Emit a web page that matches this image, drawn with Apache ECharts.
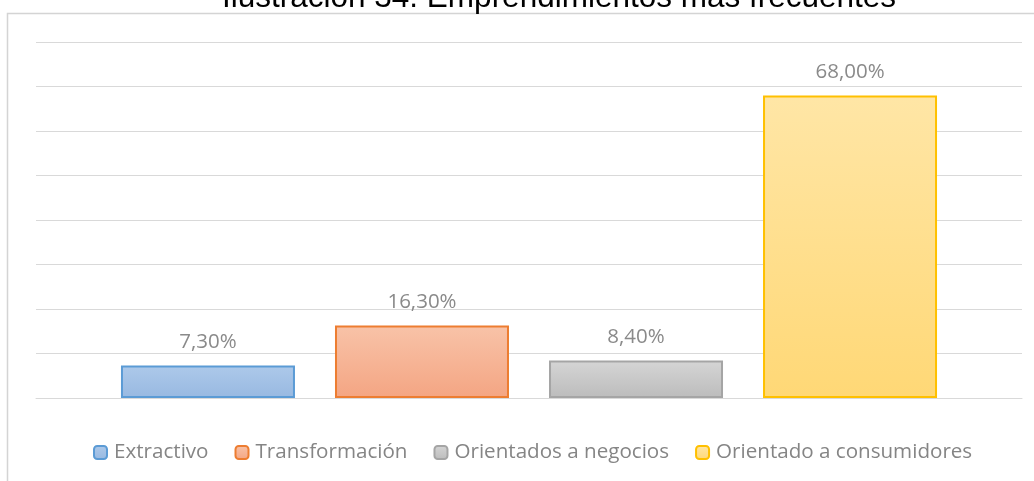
<!DOCTYPE html>
<html>
<head>
<meta charset="utf-8">
<script src="https://cdn.jsdelivr.net/npm/echarts@6/dist/echarts.min.js"></script>
<style>
  html, body { margin: 0; padding: 0; background: #fff; }
  #chart { width: 1034px; height: 481px; }
</style>
</head>
<body>
<div id="chart"></div>
<script>
// datos
const titleText = 'Ilustración 34. Emprendimientos más frecuentes';
const seriesNames = ['Extractivo', 'Transformación', 'Orientados a negocios', 'Orientado a consumidores'];
const values = [7.3, 16.3, 8.4, 68.0];
const category = [''];

const fills = [
  ['#adc9ea', '#98b9e1'],
  ['#f8c3a8', '#f4a583'],
  ['#d5d5d5', '#bcbcbc'],
  ['#ffe6a6', '#ffd876']
];
const borders = ['#5b9bd5', '#ed7d31', '#a5a5a5', '#ffc000'];

const fmt = p => p.value.toFixed(2).replace('.', ',') + '%';

const chart = echarts.init(document.getElementById('chart'));

const series = seriesNames.map((name, i) => ({
  name: name,
  type: 'bar',
  data: [values[i]],
  barWidth: 174,
  barGap: '23%',
  itemStyle: {
    color: {
      type: 'linear', x: 0, y: 0, x2: 0, y2: 1,
      colorStops: [{ offset: 0, color: fills[i][0] }, { offset: 1, color: fills[i][1] }]
    },
    borderColor: borders[i],
    borderWidth: 2
  },
  label: {
    show: true,
    position: 'top',
    distance: 13,
    formatter: fmt,
    fontFamily: 'Open Sans',
    fontSize: 20.5,
    color: '#8a8a8a'
  }
}));

chart.setOption({
  animation: false,
  title: {
    text: titleText,
    left: 217,
    top: -23,
    textStyle: { fontFamily: 'Liberation Sans', fontSize: 31.5, fontWeight: 'normal', color: '#000' }
  },
  graphic: [{
    type: 'rect',
    z: -1,
    shape: { x: 7.5, y: 13.5, width: 1100, height: 600 },
    style: { fill: 'none', stroke: '#d4d4d4', lineWidth: 1.5 }
  }],
  legend: {
    top: 437,
    left: 88,
    itemWidth: 13,
    itemHeight: 13,
    itemGap: 26,
    textStyle: { fontFamily: 'Open Sans', fontSize: 20.6, color: '#858585', padding: [0, 0, 0, 2] }
  },
  grid: { left: 36, right: 12, top: 42, bottom: 83 },
  xAxis: {
    type: 'category',
    data: category,
    axisTick: { show: false },
    axisLabel: { show: false },
    axisLine: { lineStyle: { color: '#d9d9d9', width: 1 } }
  },
  yAxis: {
    type: 'value',
    min: 0,
    max: 80,
    interval: 10,
    axisLabel: { show: false },
    axisLine: { show: false },
    axisTick: { show: false },
    splitLine: { lineStyle: { color: '#d9d9d9', width: 1 } }
  },
  series: series
});
</script>
</body>
</html>
